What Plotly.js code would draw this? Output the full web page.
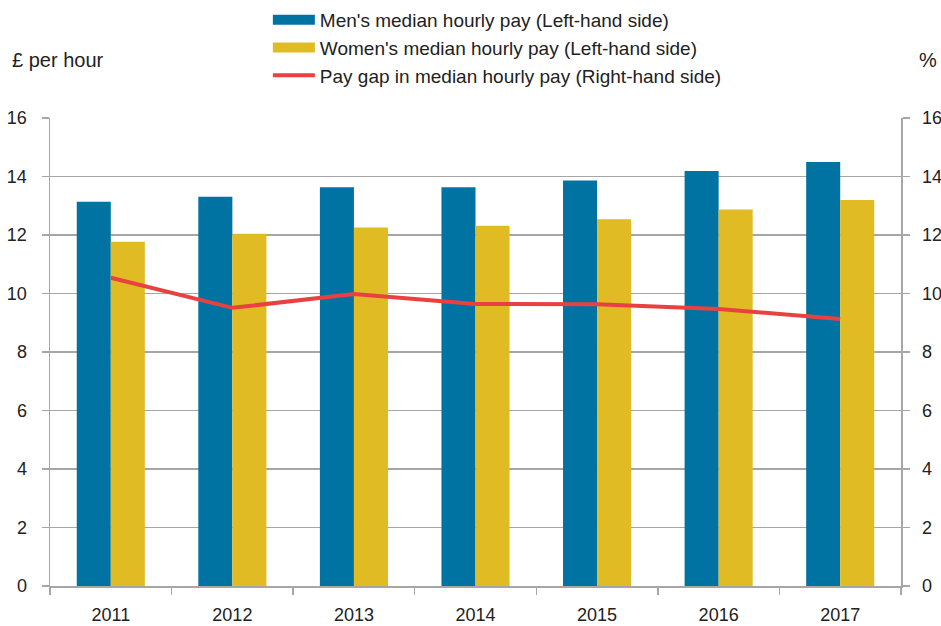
<!DOCTYPE html>
<html>
<head>
<meta charset="utf-8">
<script src="https://cdn.plot.ly/plotly-3.0.1.min.js"></script>
<style>html,body{margin:0;padding:0;background:#fff;}#chart{width:941px;height:626px;}</style>
</head>
<body>
<div id="chart"></div>
<script>
const years = ['2011', '2012', '2013', '2014', '2015', '2016', '2017'];
const menPay = [13.14, 13.31, 13.63, 13.63, 13.86, 14.19, 14.50];
const womenPay = [11.77, 12.04, 12.26, 12.32, 12.54, 12.87, 13.20];
const payGap = [10.54, 9.51, 9.98, 9.64, 9.63, 9.47, 9.13];
const yTicks = [0, 2, 4, 6, 8, 10, 12, 14, 16];
const seriesNames = ["Men's median hourly pay (Left-hand side)", "Women's median hourly pay (Left-hand side)", 'Pay gap in median hourly pay (Right-hand side)'];
const seriesColors = ['#0073a2', '#e1bb24', '#e84142'];

const FONT = 'Liberation Sans, Arial, sans-serif';
const traces = [
  {type: 'bar', name: seriesNames[0], x: years, y: menPay, showlegend: false,
   marker: {color: seriesColors[0]}, yaxis: 'y'},
  {type: 'bar', name: seriesNames[1], x: years, y: womenPay, showlegend: false,
   marker: {color: seriesColors[1]}, yaxis: 'y'},
  {type: 'scatter', mode: 'lines', name: seriesNames[2], x: years, y: payGap, showlegend: false,
   line: {color: seriesColors[2], width: 4}, yaxis: 'y2'},
  // legend entries (wide swatches like the reference)
  {type: 'scatter', mode: 'lines', name: seriesNames[0], x: [null], y: [null], line: {color: seriesColors[0], width: 11}, hoverinfo: 'skip'},
  {type: 'scatter', mode: 'lines', name: seriesNames[1], x: [null], y: [null], line: {color: seriesColors[1], width: 11}, hoverinfo: 'skip'},
  {type: 'scatter', mode: 'lines', name: seriesNames[2], x: [null], y: [null], line: {color: seriesColors[2], width: 4}, hoverinfo: 'skip'}
];
const layout = {
  width: 941, height: 626,
  margin: {l: 50, r: 40, t: 118, b: 40, autoexpand: false},
  paper_bgcolor: '#fff', plot_bgcolor: '#fff',
  font: {family: FONT, size: 18, color: '#222'},
  barmode: 'group', bargap: 0.44, bargroupgap: 0,
  showlegend: true,
  legend: {x: 0.256, xanchor: 'left', y: 1.25, yanchor: 'top', orientation: 'v',
    font: {family: FONT, size: 19, color: '#222'}, itemwidth: 42, tracegroupgap: 0,
    bgcolor: 'rgba(0,0,0,0)', traceorder: 'normal'},
  xaxis: {type: 'category', tickson: 'boundaries', ticks: 'outside', ticklen: 7, tickcolor: '#a6a6a6', tickwidth: 1.5,
    showline: true, linecolor: '#a6a6a6', linewidth: 1.5, showgrid: false, ticklabelstandoff: 12,
    tickfont: {family: FONT, size: 18, color: '#222'}, fixedrange: true},
  yaxis: {range: [0, 16], tickvals: yTicks, ticks: 'outside', ticklen: 7, tickcolor: '#a6a6a6', tickwidth: 1.5,
    showline: true, linecolor: '#a6a6a6', linewidth: 1.5, showgrid: true, gridcolor: '#a6a6a6', gridwidth: 1.5,
    zeroline: false, ticklabelstandoff: 11, tickfont: {family: FONT, size: 18, color: '#222'}},
  yaxis2: {range: [0, 16], tickvals: yTicks, overlaying: 'y', side: 'right', ticks: 'outside', ticklen: 7, tickwidth: 1.5,
    tickcolor: '#a6a6a6', showline: true, linecolor: '#a6a6a6', linewidth: 1.5, showgrid: false, zeroline: false,
    ticklabelstandoff: 9, tickfont: {family: FONT, size: 18, color: '#222'}},
  annotations: [
    {text: '£ per hour', xref: 'paper', yref: 'paper', x: -0.047, y: 1.124, xanchor: 'left', yanchor: 'middle',
     showarrow: false, font: {family: FONT, size: 20, color: '#222'}},
    {text: '%', xref: 'paper', yref: 'paper', x: 1.045, y: 1.124, xanchor: 'right', yanchor: 'middle',
     showarrow: false, font: {family: FONT, size: 20, color: '#222'}}
  ]
};
Plotly.newPlot('chart', traces, layout, {displayModeBar: false, staticPlot: true});
</script>
</body>
</html>
